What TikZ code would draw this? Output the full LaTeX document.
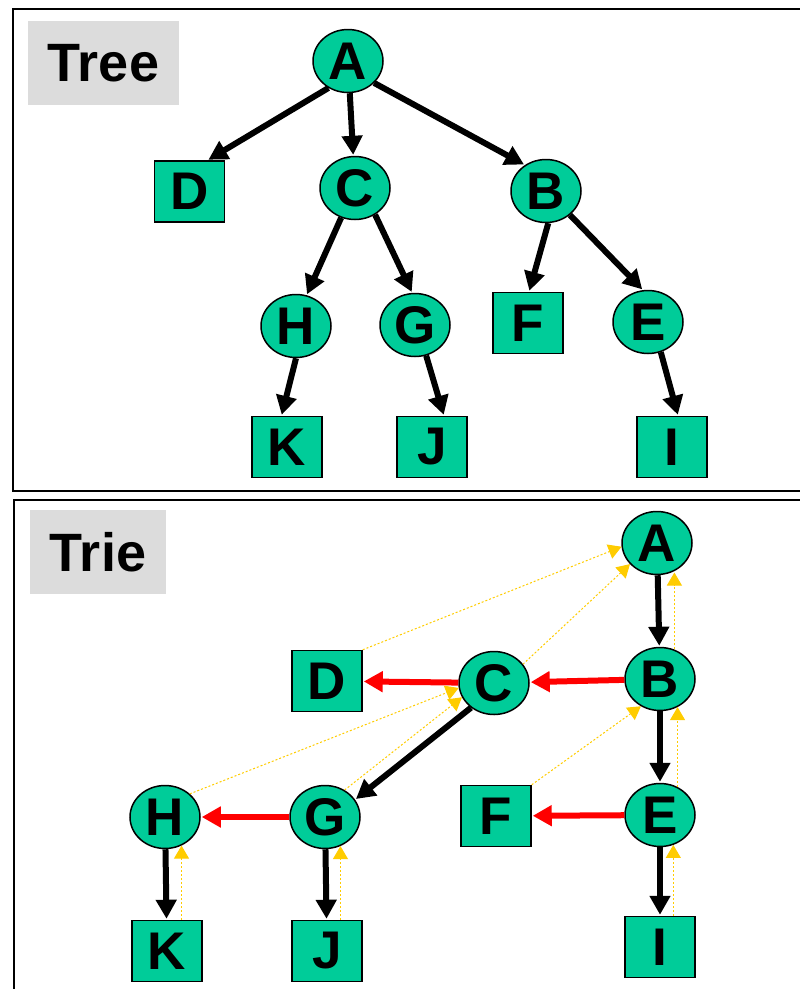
\documentclass[tikz,border=0pt]{standalone}
\usepackage{fontspec}
\setmainfont{Liberation Sans}
\usetikzlibrary{arrows.meta,shapes.geometric}
\definecolor{nodegreen}{RGB}{0,204,153}
\definecolor{linkyellow}{RGB}{255,204,0}
\definecolor{labelgray}{RGB}{220,220,220}
\tikzset{inner/.style={
        draw,
        ellipse,
        fill=nodegreen,
        line width=1.5pt,
        inner sep=0pt,
        minimum width=70pt,
        minimum height=63pt,
        font=\fontsize{53}{53}\selectfont\bfseries,
    },
    leaf/.style={
        draw,
        rectangle,
        fill=nodegreen,
        line width=1.5pt,
        inner sep=0pt,
        minimum width=70pt,
        minimum height=61pt,
        font=\fontsize{53}{53}\selectfont\bfseries,
    },
    title/.style={
        fill=labelgray,
        inner sep=0pt,
        minimum height=84pt,
        font=\fontsize{54}{54}\selectfont\bfseries,
    },
    child/.style={line width=6pt, shorten >=1pt, -{Triangle[length=19pt,width=20pt]}},
    sibling/.style={child, red},
    parent/.style={linkyellow, line width=1pt, dash pattern=on 2pt off 2pt,
        -{Triangle[length=13pt,width=15pt]}},
    frame/.style={line width=1.5pt}
}
\begin{document}
\begin{tikzpicture}[x=1pt,y=-1pt]
  \useasboundingbox (0,0) rectangle (800,989);
  \draw[frame] (801,9) -| (13,491) -- (801,491);
  \draw[frame] (801,500) -| (14,990);

  \node[title, minimum width=151pt] (treelabel) at (103.5,63) {Tree};
  \node[inner] (treeA) at (348,61) {A};
  \node[leaf]  (treeD) at (189.5,191.5) {D};
  \node[inner] (treeC) at (355,188) {C};
  \node[inner] (treeB) at (546,191) {B};
  \node[inner] (treeH) at (296,326) {H};
  \node[inner] (treeG) at (415,325) {G};
  \node[leaf]  (treeF) at (528,323) {F};
  \node[inner] (treeE) at (648,322) {E};
  \node[leaf]  (treeK) at (287,447) {K};
  \node[leaf]  (treeJ) at (432,447) {J};
  \node[leaf]  (treeI) at (672,447) {I};
  \path[child]
  (treeA.234) edge (treeD.60)
  (treeA) edge (treeC)
  (treeA.320) edge (treeB.129)
  (treeC.245) edge (treeH.71)
  (treeC.307) edge (treeG.95)
  (treeB.274) edge (treeF.88)
  (treeB.315) edge (treeE.99)
  (treeH.south) edge (treeK.100)
  (treeG.290) edge (treeJ.69)
  (treeE.293) edge (treeI.79)
  ;

  \node[title, minimum width=136pt] (trielabel) at (98,552) {Trie};
  \node[inner] (trieA) at (657,543) {A};
  \node[inner] (trieB) at (660,679) {B};
  \node[inner] (trieC) at (494,683) {C};
  \node[leaf]  (trieD) at (327,681) {D};
  \node[inner] (trieH) at (165,817) {H};
  \node[inner] (trieG) at (325,817) {G};
  \node[leaf]  (trieF) at (496,816) {F};
  \node[inner] (trieE) at (660,815) {E};
  \node[leaf]  (trieK) at (167,951) {K};
  \node[leaf]  (trieJ) at (327,951) {J};
  \node[leaf]  (trieI) at (660,947) {I};
  \path[child]
  (trieA)
  edge (trieB)
  (trieB)
  edge (trieE)
  (trieC.227)
  edge (trieG.30)
  (trieH)
  edge (trieK)
  (trieG)
  edge (trieJ)
  (trieE)
  edge (trieI)
  ;
  \path[sibling]
  (trieB)
  edge (trieC)
  (trieC)
  edge (trieD)
  (trieG)
  edge (trieH)
  (trieE)
  edge (trieF)
  ;
  \path[parent]
  (trieB.64) edge (trieB.64 |- trieA.296)
  (trieD.north east) edge (trieA.186)
  (trieC.33) edge (trieA.218)
  (trieE.58) edge (trieE.58 |- trieB.302)
  (trieF.north east) edge (trieB.235)
  (trieH.43) edge (trieC.188)
  (trieG.54) edge (trieC.204)
  (trieH.300 |- trieK.north) edge (trieH.300)
  (trieG.298 |- trieJ.north) edge (trieG.298)
  (trieE.294 |- trieI.north) edge (trieE.294)
  ;
\end{tikzpicture}
\end{document}
